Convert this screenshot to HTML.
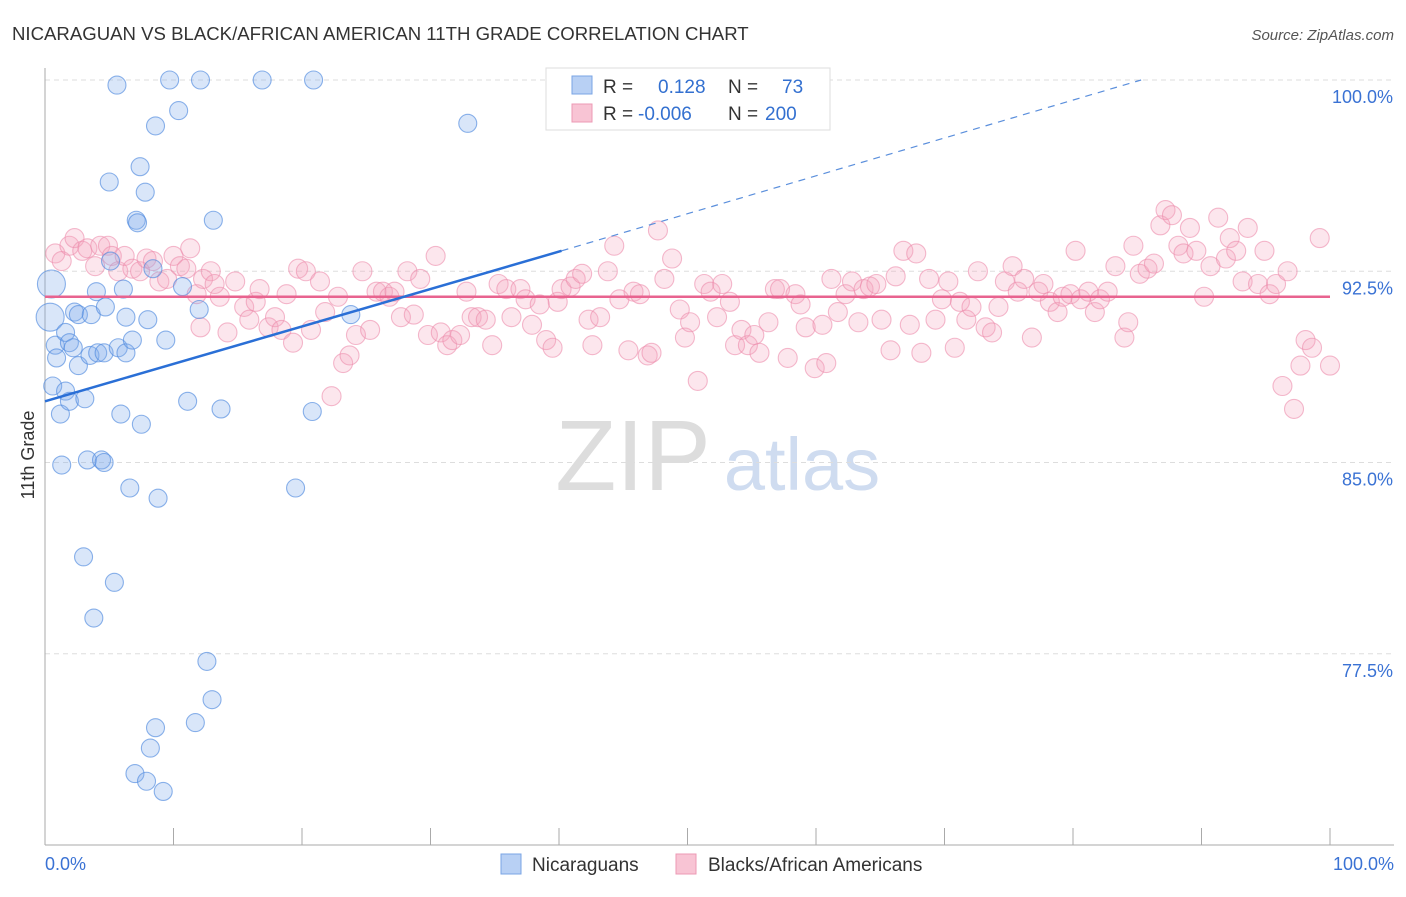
<!DOCTYPE html>
<html><head><meta charset="utf-8"><style>
body{margin:0;background:#fff;font-family:"Liberation Sans",sans-serif;}
svg text{font-family:"Liberation Sans",sans-serif;}
</style></head><body>
<svg id="c" width="1406" height="892" xmlns="http://www.w3.org/2000/svg">
<text x="12" y="40" font-size="18.6" fill="#333">NICARAGUAN VS BLACK/AFRICAN AMERICAN 11TH GRADE CORRELATION CHART</text>
<text x="1394" y="40" font-size="15" fill="#555" text-anchor="end" font-style="italic">Source: ZipAtlas.com</text>
<text x="34" y="455" font-size="18" fill="#333" text-anchor="middle" transform="rotate(-90 34 455)">11th Grade</text>
<g><text x="633" y="490" font-size="100" fill="#ddd" font-family="Liberation Serif" text-anchor="middle">ZIP</text><text x="802" y="490" font-size="74" fill="#cfdcf0" text-anchor="middle">atlas</text></g>
<g id="grid"></g><g id="axes"></g><g id="pts"></g><g id="lines"></g>
<g>
<rect x="546" y="68" width="284" height="62" fill="#fff" stroke="#ddd"/>
<rect x="572" y="76" width="20" height="18" fill="#b8d0f4" stroke="#7aa4e4"/>
<rect x="572" y="104" width="20" height="18" fill="#f8c4d4" stroke="#ec9ab4"/>
<text x="603" y="93" font-size="19" fill="#333">R = </text><text x="658" y="93" font-size="19" fill="#3370d0">0.128</text>
<text x="728" y="93" font-size="19" fill="#333">N = </text><text x="782" y="93" font-size="19" fill="#3370d0">73</text>
<text x="603" y="120" font-size="19" fill="#333">R = </text><text x="638" y="120" font-size="19" fill="#3370d0">-0.006</text>
<text x="728" y="120" font-size="19" fill="#333">N = </text><text x="765" y="120" font-size="19" fill="#3370d0">200</text>
</g>
<g>
<rect x="501" y="854" width="20" height="20" fill="#b8d0f4" stroke="#7aa4e4"/><text x="532" y="871" font-size="19" fill="#333">Nicaraguans</text>
<rect x="676" y="854" width="20" height="20" fill="#f8c4d4" stroke="#ec9ab4"/><text x="708" y="871" font-size="19" fill="#333">Blacks/African Americans</text>
</g>
</svg>
<script>
const yTicks=[100,92.5,85,77.5];
const yTickLabels=["100.0%","92.5%","85.0%","77.5%"];
const xTickLabels=["0.0%","100.0%"];
const blueX=[5.6,9.7,12.1,16.9,20.9,8.6,10.4,32.9,7.4,5.0,7.8,7.1,7.2,13.1,0.5,0.4,0.8,0.9,1.6,1.9,2.2,2.3,2.6,3.6,4.0,6.1,5.1,8.4,10.7,2.6,3.5,4.1,4.6,5.7,6.3,6.8,6.3,8.0,9.4,4.7,12.0,23.8,0.6,1.2,1.6,1.9,3.1,5.9,7.5,11.1,13.7,20.8,1.3,3.3,4.4,4.6,6.6,8.8,19.5,3.0,5.4,3.8,12.6,13.0,8.6,11.7,8.2,7.0,7.9,9.2];
const blueY=[99.8,100,100,100,100,98.2,98.8,98.3,96.6,96.0,95.6,94.5,94.4,94.5,92.0,90.7,89.6,89.1,90.1,89.7,89.5,90.9,90.8,90.8,91.7,91.8,92.9,92.6,91.9,88.8,89.2,89.3,89.3,89.5,89.3,89.8,90.7,90.6,89.8,91.1,91.0,90.8,88.0,86.9,87.8,87.4,87.5,86.9,86.5,87.4,87.1,87.0,84.9,85.1,85.1,85.0,84.0,83.6,84.0,81.3,80.3,78.9,77.2,75.7,74.6,74.8,73.8,72.8,72.5,72.1];
const pinkX=[0.8,1.3,1.9,2.3,2.9,3.3,3.9,4.3,4.9,5.2,5.7,6.2,6.8,7.4,7.9,8.4,8.9,9.5,10.0,10.5,11.0,11.3,11.8,12.1,12.3,12.9,13.2,13.6,14.2,14.8,15.5,15.9,16.4,16.7,17.4,17.9,18.4,18.8,19.3,19.7,20.3,20.7,21.4,21.8,22.3,22.8,23.2,23.7,24.2,24.7,25.3,25.8,26.3,26.8,27.2,27.7,28.2,28.7,29.2,29.8,30.4,30.8,31.3,31.7,32.3,32.8,33.2,33.7,34.3,34.8,35.3,35.9,36.3,37.0,37.4,37.9,38.5,39.0,39.5,39.9,40.2,40.9,41.3,41.8,42.3,42.6,43.2,43.8,44.3,44.7,45.4,45.8,46.3,46.9,47.2,47.7,48.2,48.8,49.4,49.8,50.2,50.8,51.3,51.8,52.3,52.7,53.3,53.7,54.2,54.7,55.2,55.6,56.3,56.8,57.2,57.8,58.4,58.8,59.2,59.9,60.5,60.8,61.2,61.7,62.3,62.8,63.3,63.7,64.2,64.7,65.1,65.8,66.2,66.8,67.3,67.8,68.2,68.8,69.3,69.8,70.3,70.8,71.2,71.7,72.1,72.6,73.2,73.7,74.2,74.7,75.3,75.7,76.2,76.8,77.3,77.7,78.2,78.8,79.2,79.8,80.2,80.6,81.2,81.7,82.1,82.7,83.3,84.0,84.3,84.7,85.2,85.8,86.3,86.8,87.2,87.7,88.2,88.6,89.1,89.6,90.2,90.7,91.3,91.9,92.2,92.7,93.2,93.6,94.4,94.9,95.3,95.8,96.3,96.7,97.2,97.7,98.1,98.6,99.2,100];
const pinkY=[93.2,92.9,93.5,93.8,93.3,93.4,92.7,93.5,93.5,93.1,92.5,93.1,92.6,92.5,93.0,92.9,92.1,92.2,93.1,92.7,92.6,93.4,91.6,90.3,92.2,92.5,92.0,91.5,90.1,92.1,91.1,90.6,91.3,91.8,90.3,90.7,90.2,91.6,89.7,92.6,92.5,90.2,92.1,90.9,87.6,91.5,88.9,89.2,90.0,92.5,90.2,91.7,91.7,91.5,91.7,90.7,92.5,90.8,92.2,90.0,93.1,90.1,89.6,89.8,90.0,91.7,90.7,90.7,90.6,89.6,92.0,91.8,90.7,91.8,91.4,90.4,91.2,89.8,89.5,91.3,91.8,91.9,92.2,92.4,90.6,89.6,90.7,92.5,93.5,91.4,89.4,91.7,91.6,89.2,89.3,94.1,92.2,93.0,91.0,89.9,90.5,88.2,92.0,91.7,90.7,92.0,91.3,89.6,90.2,89.6,90.0,89.3,90.5,91.8,91.8,89.1,91.6,91.2,90.3,88.7,90.4,88.9,92.2,90.9,91.6,92.1,90.5,91.8,91.9,92.0,90.6,89.4,92.3,93.3,90.4,93.2,89.3,92.2,90.6,91.4,92.1,89.5,91.3,90.6,91.1,92.5,90.3,90.1,91.1,92.1,92.7,91.7,92.2,89.9,91.7,92.0,91.3,90.9,91.5,91.6,93.3,91.4,91.7,90.9,91.4,91.7,92.7,89.9,90.5,93.5,92.4,92.6,92.8,94.3,94.9,94.7,93.5,93.2,94.2,93.3,91.5,92.7,94.6,93.0,93.8,93.3,92.1,94.2,92.0,93.3,91.6,92.0,88.0,92.5,87.1,88.8,89.8,89.5,93.8,88.8];
const blueTrend=[87.4,93.3,100]; const blueTrendX=[0,40.2,85.3];
const pinkTrend=91.5;
const NS="http://www.w3.org/2000/svg";
const X=v=>45+v*12.85, Y=v=>80+(100-v)*25.5;
function mk(t,a,p){const e=document.createElementNS(NS,t);for(const k in a)e.setAttribute(k,a[k]);p.appendChild(e);return e;}
const grid=document.getElementById('grid'),axes=document.getElementById('axes'),pts=document.getElementById('pts'),lines=document.getElementById('lines');
yTicks.forEach((t,i)=>{
 const l=mk('line',{x1:45,x2:1394,y1:Y(t),y2:Y(t),stroke:'#ddd','stroke-dasharray':'5,4'},grid);
 
 
 const tx=mk('text',{x:1393,y:Y(t)+23,'font-size':18,fill:'#3a72d4','text-anchor':'end'},axes);tx.textContent=yTickLabels[i];
 
 
});
const ax=mk('line',{x1:45,x2:45,y1:68,y2:845,stroke:'#aaa'},axes);


const bx=mk('line',{x1:45,x2:1394,y1:845,y2:845,stroke:'#aaa'},axes);


for(let i=0;i<=10;i++){const t=mk('line',{x1:X(i*10),x2:X(i*10),y1:828,y2:845,stroke:'#aaa'},axes);
 
 }
[[0,'start',45],[100,'end',1394]].forEach((d,i)=>{const t=mk('text',{x:d[2],y:870,'font-size':18,fill:'#3a72d4','text-anchor':d[1]},axes);t.textContent=xTickLabels[i];
 
 });
pinkX.forEach((x,i)=>{const c=mk('circle',{cx:X(x),cy:Y(pinkY[i]),r:9.5,fill:'rgba(246,165,192,0.28)',stroke:'rgba(236,140,172,0.6)','stroke-width':1.1},pts);
 
 });
blueX.forEach((x,i)=>{const c=mk('circle',{cx:X(x),cy:Y(blueY[i]),r:(i==14||i==15)?14:9,fill:'rgba(130,172,235,0.3)',stroke:'rgba(80,138,222,0.65)','stroke-width':1.1},pts);
 
 });
const pl=mk('line',{x1:X(0),x2:X(100),y1:Y(pinkTrend),y2:Y(pinkTrend),stroke:'#e8638f','stroke-width':2.5},lines);


const bl=mk('line',{x1:X(blueTrendX[0]),y1:Y(blueTrend[0]),x2:X(blueTrendX[1]),y2:Y(blueTrend[1]),stroke:'#2a6fd6','stroke-width':2.5},lines);


const bd=mk('line',{x1:X(blueTrendX[1]),y1:Y(blueTrend[1]),x2:X(blueTrendX[2]),y2:Y(blueTrend[2]),stroke:'#5b8fdc','stroke-width':1.2,'stroke-dasharray':'7,6'},lines);


</script>
</body></html>
